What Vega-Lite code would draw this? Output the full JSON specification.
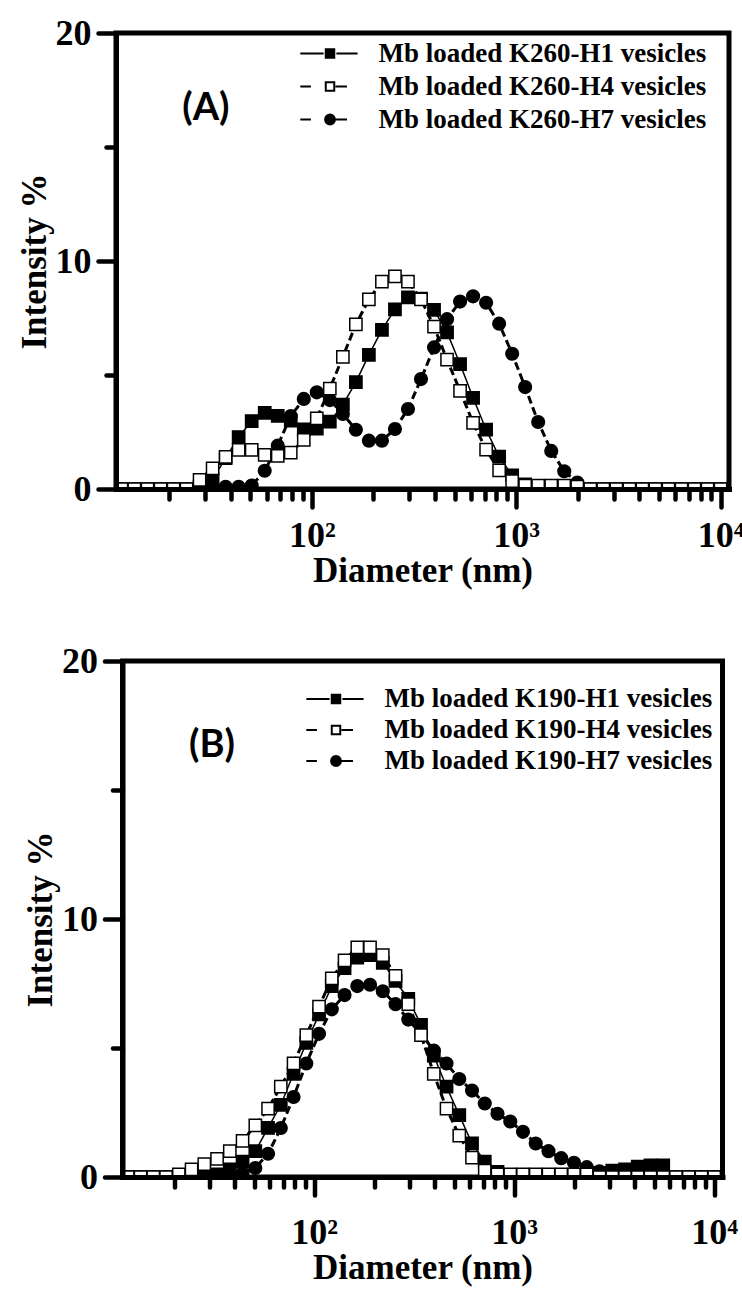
{
  "$schema": "https://vega.github.io/schema/vega-lite/v6.json",
  "background": "white",
  "padding": {"left": 14, "top": 12, "right": 0, "bottom": 2},
  "autosize": {"type": "pad"},
  "bounds": "flush",
  "spacing": 172,
  "center": true,
  "resolve": {"scale": {"shape": "independent", "color": "independent"}, "legend": {"shape": "independent", "color": "independent"}},
  "config": {
    "view": {"stroke": "black", "strokeWidth": 5},
    "font": "Liberation Serif"
  },
  "datasets": {
    "A": [
      {"s":"H1","d":11.7,"v":0},{"s":"H1","d":13.54,"v":0},{"s":"H1","d":15.69,"v":0},{"s":"H1","d":18.17,"v":0},{"s":"H1","d":21.04,"v":0},{"s":"H1","d":24.36,"v":0},{"s":"H1","d":28.21,"v":0.1},{"s":"H1","d":32.67,"v":0.42},{"s":"H1","d":37.84,"v":1.35},{"s":"H1","d":43.82,"v":2.28},{"s":"H1","d":50.75,"v":2.98},{"s":"H1","d":58.77,"v":3.34},{"s":"H1","d":68.06,"v":3.21},{"s":"H1","d":78.82,"v":3.0},{"s":"H1","d":91.28,"v":2.62},{"s":"H1","d":105.7,"v":2.65},{"s":"H1","d":122.4,"v":2.95},{"s":"H1","d":141.8,"v":3.7},{"s":"H1","d":164.2,"v":4.69},{"s":"H1","d":190.1,"v":5.88},{"s":"H1","d":220.2,"v":6.98},{"s":"H1","d":255,"v":7.88},{"s":"H1","d":295.3,"v":8.4},{"s":"H1","d":342,"v":8.35},{"s":"H1","d":396.1,"v":7.86},{"s":"H1","d":458.7,"v":6.87},{"s":"H1","d":531.2,"v":5.48},{"s":"H1","d":615.1,"v":4.0},{"s":"H1","d":712.4,"v":2.6},{"s":"H1","d":825,"v":1.42},{"s":"H1","d":955.4,"v":0.6},{"s":"H1","d":1106,"v":0.2},{"s":"H1","d":1281,"v":0.05},{"s":"H1","d":1484,"v":0},{"s":"H1","d":1718,"v":0},{"s":"H1","d":1990,"v":0},{"s":"H1","d":2305,"v":0},{"s":"H1","d":2669,"v":0},{"s":"H1","d":3091,"v":0},{"s":"H1","d":3580,"v":0},{"s":"H1","d":4145,"v":0},{"s":"H1","d":4801,"v":0},{"s":"H1","d":5560,"v":0},{"s":"H1","d":6439,"v":0},{"s":"H1","d":7456,"v":0},{"s":"H1","d":8635,"v":0},{"s":"H1","d":10000,"v":0},
      {"s":"H7","d":11.7,"v":0},{"s":"H7","d":13.54,"v":0},{"s":"H7","d":15.69,"v":0},{"s":"H7","d":18.17,"v":0},{"s":"H7","d":21.04,"v":0},{"s":"H7","d":24.36,"v":0},{"s":"H7","d":28.21,"v":0},{"s":"H7","d":32.67,"v":0.1},{"s":"H7","d":37.84,"v":0.1},{"s":"H7","d":43.82,"v":0.1},{"s":"H7","d":50.75,"v":0.15},{"s":"H7","d":58.77,"v":0.8},{"s":"H7","d":68.06,"v":1.9},{"s":"H7","d":78.82,"v":3.2},{"s":"H7","d":91.28,"v":3.95},{"s":"H7","d":105.7,"v":4.24},{"s":"H7","d":122.4,"v":3.9},{"s":"H7","d":141.8,"v":3.29},{"s":"H7","d":164.2,"v":2.6},{"s":"H7","d":190.1,"v":2.12},{"s":"H7","d":220.2,"v":2.12},{"s":"H7","d":255,"v":2.63},{"s":"H7","d":295.3,"v":3.51},{"s":"H7","d":342,"v":4.82},{"s":"H7","d":396.1,"v":6.21},{"s":"H7","d":458.7,"v":7.45},{"s":"H7","d":531.2,"v":8.22},{"s":"H7","d":615.1,"v":8.45},{"s":"H7","d":712.4,"v":8.17},{"s":"H7","d":825,"v":7.25},{"s":"H7","d":955.4,"v":5.93},{"s":"H7","d":1106,"v":4.47},{"s":"H7","d":1281,"v":2.94},{"s":"H7","d":1484,"v":1.67},{"s":"H7","d":1718,"v":0.78},{"s":"H7","d":1990,"v":0.28},{"s":"H7","d":2305,"v":0},{"s":"H7","d":2669,"v":0},{"s":"H7","d":3091,"v":0},{"s":"H7","d":3580,"v":0},{"s":"H7","d":4145,"v":0},{"s":"H7","d":4801,"v":0},{"s":"H7","d":5560,"v":0},{"s":"H7","d":6439,"v":0},{"s":"H7","d":7456,"v":0},{"s":"H7","d":8635,"v":0},{"s":"H7","d":10000,"v":0},
      {"s":"H4","d":11.7,"v":0},{"s":"H4","d":13.54,"v":0},{"s":"H4","d":15.69,"v":0},{"s":"H4","d":18.17,"v":0},{"s":"H4","d":21.04,"v":0},{"s":"H4","d":24.36,"v":0},{"s":"H4","d":28.21,"v":0.4},{"s":"H4","d":32.67,"v":0.9},{"s":"H4","d":37.84,"v":1.41},{"s":"H4","d":43.82,"v":1.72},{"s":"H4","d":50.75,"v":1.72},{"s":"H4","d":58.77,"v":1.5},{"s":"H4","d":68.06,"v":1.45},{"s":"H4","d":78.82,"v":1.6},{"s":"H4","d":91.28,"v":2.15},{"s":"H4","d":105.7,"v":3.1},{"s":"H4","d":122.4,"v":4.4},{"s":"H4","d":141.8,"v":5.8},{"s":"H4","d":164.2,"v":7.22},{"s":"H4","d":190.1,"v":8.32},{"s":"H4","d":220.2,"v":9.1},{"s":"H4","d":255,"v":9.33},{"s":"H4","d":295.3,"v":9.1},{"s":"H4","d":342,"v":8.32},{"s":"H4","d":396.1,"v":7.12},{"s":"H4","d":458.7,"v":5.67},{"s":"H4","d":531.2,"v":4.3},{"s":"H4","d":615.1,"v":2.9},{"s":"H4","d":712.4,"v":1.73},{"s":"H4","d":825,"v":0.82},{"s":"H4","d":955.4,"v":0.35},{"s":"H4","d":1106,"v":0.15},{"s":"H4","d":1281,"v":0.15},{"s":"H4","d":1484,"v":0.15},{"s":"H4","d":1718,"v":0.15},{"s":"H4","d":1990,"v":0.1},{"s":"H4","d":2305,"v":0},{"s":"H4","d":2669,"v":0},{"s":"H4","d":3091,"v":0},{"s":"H4","d":3580,"v":0},{"s":"H4","d":4145,"v":0},{"s":"H4","d":4801,"v":0},{"s":"H4","d":5560,"v":0},{"s":"H4","d":6439,"v":0},{"s":"H4","d":7456,"v":0},{"s":"H4","d":8635,"v":0},{"s":"H4","d":10000,"v":0}
    ],
    "B": [
      {"s":"H1","d":11.7,"v":0},{"s":"H1","d":13.54,"v":0},{"s":"H1","d":15.69,"v":0},{"s":"H1","d":18.17,"v":0},{"s":"H1","d":21.04,"v":0},{"s":"H1","d":24.36,"v":0},{"s":"H1","d":28.21,"v":0.05},{"s":"H1","d":32.67,"v":0.1},{"s":"H1","d":37.84,"v":0.3},{"s":"H1","d":43.82,"v":0.6},{"s":"H1","d":50.75,"v":1.0},{"s":"H1","d":58.77,"v":1.9},{"s":"H1","d":68.06,"v":2.8},{"s":"H1","d":78.82,"v":4.0},{"s":"H1","d":91.28,"v":5.2},{"s":"H1","d":105.7,"v":6.3},{"s":"H1","d":122.4,"v":7.4},{"s":"H1","d":141.8,"v":8.1},{"s":"H1","d":164.2,"v":8.5},{"s":"H1","d":190.1,"v":8.6},{"s":"H1","d":220.2,"v":8.3},{"s":"H1","d":255,"v":7.6},{"s":"H1","d":295.3,"v":6.9},{"s":"H1","d":342,"v":5.9},{"s":"H1","d":396.1,"v":4.7},{"s":"H1","d":458.7,"v":3.5},{"s":"H1","d":531.2,"v":2.4},{"s":"H1","d":615.1,"v":1.3},{"s":"H1","d":712.4,"v":0.6},{"s":"H1","d":825,"v":0.2},{"s":"H1","d":955.4,"v":0.05},{"s":"H1","d":1106,"v":0},{"s":"H1","d":1281,"v":0},{"s":"H1","d":1484,"v":0},{"s":"H1","d":1718,"v":0},{"s":"H1","d":1990,"v":0},{"s":"H1","d":2305,"v":0},{"s":"H1","d":2669,"v":0.15},{"s":"H1","d":3091,"v":0.25},{"s":"H1","d":3580,"v":0.3},{"s":"H1","d":4145,"v":0.4},{"s":"H1","d":4801,"v":0.45},{"s":"H1","d":5560,"v":0.45},{"s":"H1","d":6439,"v":0},{"s":"H1","d":7456,"v":0},{"s":"H1","d":8635,"v":0},{"s":"H1","d":10000,"v":0},
      {"s":"H7","d":11.7,"v":0},{"s":"H7","d":13.54,"v":0},{"s":"H7","d":15.69,"v":0},{"s":"H7","d":18.17,"v":0},{"s":"H7","d":21.04,"v":0},{"s":"H7","d":24.36,"v":0},{"s":"H7","d":28.21,"v":0},{"s":"H7","d":32.67,"v":0},{"s":"H7","d":37.84,"v":0.05},{"s":"H7","d":43.82,"v":0.15},{"s":"H7","d":50.75,"v":0.35},{"s":"H7","d":58.77,"v":0.9},{"s":"H7","d":68.06,"v":1.9},{"s":"H7","d":78.82,"v":3.1},{"s":"H7","d":91.28,"v":4.4},{"s":"H7","d":105.7,"v":5.55},{"s":"H7","d":122.4,"v":6.5},{"s":"H7","d":141.8,"v":7.05},{"s":"H7","d":164.2,"v":7.4},{"s":"H7","d":190.1,"v":7.45},{"s":"H7","d":220.2,"v":7.2},{"s":"H7","d":255,"v":6.7},{"s":"H7","d":295.3,"v":6.1},{"s":"H7","d":342,"v":5.55},{"s":"H7","d":396.1,"v":4.9},{"s":"H7","d":458.7,"v":4.4},{"s":"H7","d":531.2,"v":3.8},{"s":"H7","d":615.1,"v":3.35},{"s":"H7","d":712.4,"v":2.85},{"s":"H7","d":825,"v":2.45},{"s":"H7","d":955.4,"v":2.15},{"s":"H7","d":1106,"v":1.75},{"s":"H7","d":1281,"v":1.3},{"s":"H7","d":1484,"v":1.0},{"s":"H7","d":1718,"v":0.73},{"s":"H7","d":1990,"v":0.55},{"s":"H7","d":2305,"v":0.38},{"s":"H7","d":2669,"v":0.22},{"s":"H7","d":3091,"v":0.1},{"s":"H7","d":3580,"v":0},{"s":"H7","d":4145,"v":0},{"s":"H7","d":4801,"v":0},{"s":"H7","d":5560,"v":0},{"s":"H7","d":6439,"v":0},{"s":"H7","d":7456,"v":0},{"s":"H7","d":8635,"v":0},{"s":"H7","d":10000,"v":0},
      {"s":"H4","d":11.7,"v":0},{"s":"H4","d":13.54,"v":0},{"s":"H4","d":15.69,"v":0},{"s":"H4","d":18.17,"v":0},{"s":"H4","d":21.04,"v":0.1},{"s":"H4","d":24.36,"v":0.3},{"s":"H4","d":28.21,"v":0.5},{"s":"H4","d":32.67,"v":0.7},{"s":"H4","d":37.84,"v":1.0},{"s":"H4","d":43.82,"v":1.4},{"s":"H4","d":50.75,"v":2.0},{"s":"H4","d":58.77,"v":2.65},{"s":"H4","d":68.06,"v":3.5},{"s":"H4","d":78.82,"v":4.4},{"s":"H4","d":91.28,"v":5.5},{"s":"H4","d":105.7,"v":6.6},{"s":"H4","d":122.4,"v":7.7},{"s":"H4","d":141.8,"v":8.4},{"s":"H4","d":164.2,"v":8.9},{"s":"H4","d":190.1,"v":8.9},{"s":"H4","d":220.2,"v":8.6},{"s":"H4","d":255,"v":7.8},{"s":"H4","d":295.3,"v":6.7},{"s":"H4","d":342,"v":5.5},{"s":"H4","d":396.1,"v":4.0},{"s":"H4","d":458.7,"v":2.65},{"s":"H4","d":531.2,"v":1.6},{"s":"H4","d":615.1,"v":0.75},{"s":"H4","d":712.4,"v":0.25},{"s":"H4","d":825,"v":0.1},{"s":"H4","d":955.4,"v":0.1},{"s":"H4","d":1106,"v":0.1},{"s":"H4","d":1281,"v":0.1},{"s":"H4","d":1484,"v":0.1},{"s":"H4","d":1718,"v":0.1},{"s":"H4","d":1990,"v":0.1},{"s":"H4","d":2305,"v":0.1},{"s":"H4","d":2669,"v":0},{"s":"H4","d":3091,"v":0},{"s":"H4","d":3580,"v":0},{"s":"H4","d":4145,"v":0},{"s":"H4","d":4801,"v":0},{"s":"H4","d":5560,"v":0},{"s":"H4","d":6439,"v":0},{"s":"H4","d":7456,"v":0},{"s":"H4","d":8635,"v":0},{"s":"H4","d":10000,"v":0}
    ],
    "labA": [{"d": 30.3, "v": 16.67, "t": "(A)"}],
    "labB": [{"d": 30.8, "v": 16.7, "t": "(B)"}]
  },
  "vconcat": [
    {
      "width": 613,
      "height": 456,
      "resolve": {"axis": {"x": "independent", "y": "independent"}},
      "layer": [
        {
          "data": {"name": "A"},
          "transform": [{"filter": "datum.s === 'H1'"}],
          "mark": {"type": "line", "color": "black", "clip": true, "strokeWidth": 1.5},
          "encoding": {
            "x": {"field": "d", "type": "quantitative", "scale": {"type": "log", "domain": [11, 11000], "nice": false},
              "axis": {"orient": "bottom", "values": [100, 1000, 10000], "labelExpr": "datum.value == 100 ? '10²' : datum.value == 1000 ? '10³' : '10⁴'", "tickSize": 18, "tickWidth": 4.5, "tickCap": "round", "tickColor": "black", "domainColor": "black", "domainWidth": 5, "domainCap": "square", "labelFont": "Liberation Serif", "labelFontSize": 36, "labelFontWeight": "bold", "labelColor": "black", "labelPadding": 11, "labelFlush": false, "labelOverlap": false, "labelBound": false, "grid": false, "title": "Diameter (nm)", "titleFont": "Liberation Serif", "titleFontSize": 35, "titleFontWeight": "bold", "titleColor": "black", "titlePadding": 0, "zindex": 1}},
            "y": {"field": "v", "type": "quantitative", "scale": {"domain": [0, 20], "nice": false, "zero": false},
              "axis": {"orient": "left", "values": [0, 10, 20], "tickSize": 18, "tickWidth": 4.5, "tickCap": "round", "tickColor": "black", "domainColor": "black", "domainWidth": 5, "domainCap": "square", "labelFont": "Liberation Serif", "labelFontSize": 36, "labelFontWeight": "bold", "labelColor": "black", "labelPadding": 7, "labelFlush": false, "labelOverlap": false, "grid": false, "title": "Intensity %", "titleFont": "Liberation Serif", "titleFontSize": 35, "titleFontWeight": "bold", "titleColor": "black", "titlePadding": 3, "zindex": 1}}
          }
        },
        {
          "data": {"name": "A"},
          "transform": [{"filter": "datum.s === 'H7'"}],
          "mark": {"type": "line", "color": "black", "clip": true, "strokeWidth": 3, "strokeDash": [8, 4]},
          "encoding": {"x": {"field": "d", "type": "quantitative", "axis": null}, "y": {"field": "v", "type": "quantitative", "axis": null}}
        },
        {
          "data": {"name": "A"},
          "transform": [{"filter": "datum.s === 'H4'"}],
          "mark": {"type": "line", "color": "black", "clip": true, "strokeWidth": 3, "strokeDash": [8, 4]},
          "encoding": {"x": {"field": "d", "type": "quantitative", "axis": null}, "y": {"field": "v", "type": "quantitative", "axis": null}}
        },
        {
          "data": {"name": "A"},
          "transform": [{"filter": "datum.s === 'H1'"}],
          "mark": {"type": "point", "shape": "square", "size": 150, "fill": "black", "stroke": "black", "strokeWidth": 1.5, "opacity": 1, "clip": true},
          "encoding": {
            "x": {"field": "d", "type": "quantitative",
              "axis": {"orient": "bottom", "values": [20, 30, 40, 50, 60, 70, 80, 90, 200, 300, 400, 500, 600, 700, 800, 900, 2000, 3000, 4000, 5000, 6000, 7000, 8000, 9000], "tickSize": 10, "tickWidth": 4.5, "tickCap": "round", "tickColor": "black", "labels": false, "domain": false, "grid": false, "title": null, "zindex": 1}},
            "y": {"field": "v", "type": "quantitative",
              "axis": {"orient": "left", "values": [5, 15], "tickSize": 10, "tickWidth": 4.5, "tickCap": "round", "tickColor": "black", "labels": false, "domain": false, "grid": false, "title": null, "zindex": 1}}
          }
        },
        {
          "data": {"name": "A"},
          "transform": [{"filter": "datum.s === 'H7'"}],
          "mark": {"type": "point", "shape": "circle", "size": 160, "fill": "black", "stroke": "black", "strokeWidth": 1.5, "opacity": 1, "clip": true},
          "encoding": {"x": {"field": "d", "type": "quantitative", "axis": null}, "y": {"field": "v", "type": "quantitative", "axis": null}}
        },
        {
          "data": {"name": "A"},
          "transform": [{"filter": "datum.s === 'H4'"}],
          "mark": {"type": "point", "shape": "square", "size": 150, "fill": "white", "stroke": "black", "strokeWidth": 1.5, "opacity": 1, "clip": true},
          "encoding": {"x": {"field": "d", "type": "quantitative", "axis": null}, "y": {"field": "v", "type": "quantitative", "axis": null}}
        },
        {
          "data": {"name": "A"},
          "transform": [{"filter": "false"}],
          "mark": {"type": "point", "filled": true, "stroke": "black", "strokeWidth": 2, "opacity": 1},
          "encoding": {
            "x": {"field": "d", "type": "quantitative", "axis": null},
            "y": {"field": "v", "type": "quantitative", "axis": null},
            "shape": {"field": "s", "type": "nominal", "scale": {"domain": ["H1", "H4", "H7"], "range": ["M-7,0H-1.5M-1,-1H1V1H-1ZM1.5,0H6.5", "M-7,0H-4.5M-1,-1H1V1H-1ZM1.3,0H4", "M-7,0H-4.5M1.15,0A1.15,1.15,0,1,1,-1.15,0A1.15,1.15,0,1,1,1.15,0ZM1.3,0H4"]},
              "legend": {"orient": "none", "legendX": 200.5, "legendY": 7, "title": null, "padding": 0, "labelExpr": "'Mb loaded K260-' + datum.label + ' vesicles'", "labelFont": "Liberation Serif", "labelFontSize": 27, "labelFontWeight": "bold", "labelColor": "black", "labelLimit": 0, "labelOffset": 35, "symbolSize": 72, "symbolStrokeColor": "black", "symbolStrokeWidth": 2, "rowPadding": 5}},
            "color": {"field": "s", "type": "nominal", "scale": {"domain": ["H1", "H4", "H7"], "range": ["black", "white", "black"]},
              "legend": {"orient": "none", "legendX": 200.5, "legendY": 7, "title": null, "padding": 0, "labelExpr": "'Mb loaded K260-' + datum.label + ' vesicles'", "labelFont": "Liberation Serif", "labelFontSize": 27, "labelFontWeight": "bold", "labelColor": "black", "labelLimit": 0, "labelOffset": 35, "symbolSize": 72, "symbolStrokeColor": "black", "symbolStrokeWidth": 2, "rowPadding": 5}}
          }
        },
        {
          "data": {"name": "labA"},
          "mark": {"type": "text", "font": "Lato", "fontWeight": "bold", "fontSize": 38, "color": "black", "align": "center", "baseline": "middle"},
          "encoding": {
            "x": {"field": "d", "type": "quantitative", "axis": null},
            "y": {"field": "v", "type": "quantitative", "axis": null},
            "text": {"field": "t"}
          }
        }
      ]
    },
    {
      "width": 600,
      "height": 516,
      "resolve": {"axis": {"x": "independent", "y": "independent"}},
      "layer": [
        {
          "data": {"name": "B"},
          "transform": [{"filter": "datum.s === 'H1'"}],
          "mark": {"type": "line", "color": "black", "clip": true, "strokeWidth": 1.5},
          "encoding": {
            "x": {"field": "d", "type": "quantitative", "scale": {"type": "log", "domain": [11, 11000], "nice": false},
              "axis": {"orient": "bottom", "values": [100, 1000, 10000], "labelExpr": "datum.value == 100 ? '10²' : datum.value == 1000 ? '10³' : '10⁴'", "tickSize": 18, "tickWidth": 4.5, "tickCap": "round", "tickColor": "black", "domainColor": "black", "domainWidth": 5, "domainCap": "square", "labelFont": "Liberation Serif", "labelFontSize": 36, "labelFontWeight": "bold", "labelColor": "black", "labelPadding": 20, "labelFlush": false, "labelOverlap": false, "labelBound": false, "grid": false, "title": "Diameter (nm)", "titleFont": "Liberation Serif", "titleFontSize": 35, "titleFontWeight": "bold", "titleColor": "black", "titlePadding": 0, "zindex": 1}},
            "y": {"field": "v", "type": "quantitative", "scale": {"domain": [0, 20], "nice": false, "zero": false},
              "axis": {"orient": "left", "values": [0, 10, 20], "tickSize": 18, "tickWidth": 4.5, "tickCap": "round", "tickColor": "black", "domainColor": "black", "domainWidth": 5, "domainCap": "square", "labelFont": "Liberation Serif", "labelFontSize": 36, "labelFontWeight": "bold", "labelColor": "black", "labelPadding": 7, "labelFlush": false, "labelOverlap": false, "grid": false, "title": "Intensity %", "titleFont": "Liberation Serif", "titleFontSize": 35, "titleFontWeight": "bold", "titleColor": "black", "titlePadding": 3, "zindex": 1}}
          }
        },
        {
          "data": {"name": "B"},
          "transform": [{"filter": "datum.s === 'H7'"}],
          "mark": {"type": "line", "color": "black", "clip": true, "strokeWidth": 3, "strokeDash": [8, 4]},
          "encoding": {"x": {"field": "d", "type": "quantitative", "axis": null}, "y": {"field": "v", "type": "quantitative", "axis": null}}
        },
        {
          "data": {"name": "B"},
          "transform": [{"filter": "datum.s === 'H4'"}],
          "mark": {"type": "line", "color": "black", "clip": true, "strokeWidth": 3, "strokeDash": [8, 4]},
          "encoding": {"x": {"field": "d", "type": "quantitative", "axis": null}, "y": {"field": "v", "type": "quantitative", "axis": null}}
        },
        {
          "data": {"name": "B"},
          "transform": [{"filter": "datum.s === 'H1'"}],
          "mark": {"type": "point", "shape": "square", "size": 150, "fill": "black", "stroke": "black", "strokeWidth": 1.5, "opacity": 1, "clip": true},
          "encoding": {
            "x": {"field": "d", "type": "quantitative",
              "axis": {"orient": "bottom", "values": [20, 30, 40, 50, 60, 70, 80, 90, 200, 300, 400, 500, 600, 700, 800, 900, 2000, 3000, 4000, 5000, 6000, 7000, 8000, 9000], "tickSize": 10, "tickWidth": 4.5, "tickCap": "round", "tickColor": "black", "labels": false, "domain": false, "grid": false, "title": null, "zindex": 1}},
            "y": {"field": "v", "type": "quantitative",
              "axis": {"orient": "left", "values": [5, 15], "tickSize": 10, "tickWidth": 4.5, "tickCap": "round", "tickColor": "black", "labels": false, "domain": false, "grid": false, "title": null, "zindex": 1}}
          }
        },
        {
          "data": {"name": "B"},
          "transform": [{"filter": "datum.s === 'H7'"}],
          "mark": {"type": "point", "shape": "circle", "size": 160, "fill": "black", "stroke": "black", "strokeWidth": 1.5, "opacity": 1, "clip": true},
          "encoding": {"x": {"field": "d", "type": "quantitative", "axis": null}, "y": {"field": "v", "type": "quantitative", "axis": null}}
        },
        {
          "data": {"name": "B"},
          "transform": [{"filter": "datum.s === 'H4'"}],
          "mark": {"type": "point", "shape": "square", "size": 150, "fill": "white", "stroke": "black", "strokeWidth": 1.5, "opacity": 1, "clip": true},
          "encoding": {"x": {"field": "d", "type": "quantitative", "axis": null}, "y": {"field": "v", "type": "quantitative", "axis": null}}
        },
        {
          "data": {"name": "B"},
          "transform": [{"filter": "false"}],
          "mark": {"type": "point", "filled": true, "stroke": "black", "strokeWidth": 2, "opacity": 1},
          "encoding": {
            "x": {"field": "d", "type": "quantitative", "axis": null},
            "y": {"field": "v", "type": "quantitative", "axis": null},
            "shape": {"field": "s", "type": "nominal", "scale": {"domain": ["H1", "H4", "H7"], "range": ["M-7,0H-1.5M-1,-1H1V1H-1ZM1.5,0H6.5", "M-7,0H-4.5M-1,-1H1V1H-1ZM1.3,0H4", "M-7,0H-4.5M1.15,0A1.15,1.15,0,1,1,-1.15,0A1.15,1.15,0,1,1,1.15,0ZM1.3,0H4"]},
              "legend": {"orient": "none", "legendX": 200, "legendY": 24.5, "title": null, "padding": 0, "labelExpr": "'Mb loaded K190-' + datum.label + ' vesicles'", "labelFont": "Liberation Serif", "labelFontSize": 27, "labelFontWeight": "bold", "labelColor": "black", "labelLimit": 0, "labelOffset": 35, "symbolSize": 72, "symbolStrokeColor": "black", "symbolStrokeWidth": 2, "rowPadding": 3}},
            "color": {"field": "s", "type": "nominal", "scale": {"domain": ["H1", "H4", "H7"], "range": ["black", "white", "black"]},
              "legend": {"orient": "none", "legendX": 200, "legendY": 24.5, "title": null, "padding": 0, "labelExpr": "'Mb loaded K190-' + datum.label + ' vesicles'", "labelFont": "Liberation Serif", "labelFontSize": 27, "labelFontWeight": "bold", "labelColor": "black", "labelLimit": 0, "labelOffset": 35, "symbolSize": 72, "symbolStrokeColor": "black", "symbolStrokeWidth": 2, "rowPadding": 3}}
          }
        },
        {
          "data": {"name": "labB"},
          "mark": {"type": "text", "font": "Lato", "fontWeight": "bold", "fontSize": 38, "color": "black", "align": "center", "baseline": "middle"},
          "encoding": {
            "x": {"field": "d", "type": "quantitative", "axis": null},
            "y": {"field": "v", "type": "quantitative", "axis": null},
            "text": {"field": "t"}
          }
        }
      ]
    }
  ]
}
